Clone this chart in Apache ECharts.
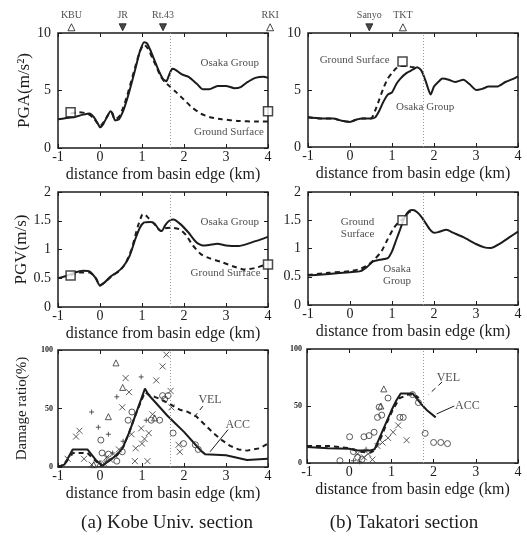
<!DOCTYPE html>
<html><head><meta charset="utf-8">
<script src="https://cdn.jsdelivr.net/npm/echarts@6/dist/echarts.min.js"></script>
<style>html,body{margin:0;padding:0;background:#fff}#c{width:527px;height:538px}</style>
</head><body><div id="c"></div>
<script>
// ---------------- DATA ----------------
const xTicks = [-1, 0, 1, 2, 3, 4];
const pgaTicks = [0, 5, 10];
const pgvTicks = [0, 0.5, 1, 1.5, 2];
const damageTicks = [0, 50, 100];

// (a) Kobe Univ. section
const kobePgaOsaka = [[-1,2.5],[-0.8,2.6],[-0.6,2.7],[-0.4,2.9],[-0.25,3.0],[-0.15,2.7],[-0.05,2.1],[0,1.8],[0.08,2.1],[0.18,2.8],[0.25,3.2],[0.3,3.0],[0.36,2.4],[0.45,2.5],[0.55,3.2],[0.65,4.3],[0.75,5.6],[0.85,7.0],[0.95,8.4],[1.05,9.2],[1.12,9.1],[1.2,8.5],[1.3,7.6],[1.4,6.7],[1.5,6.0],[1.58,5.8],[1.65,6.4],[1.72,6.9],[1.8,6.8],[1.95,6.4],[2.1,6.2],[2.3,5.6],[2.45,5.1],[2.6,5.1],[2.8,5.4],[3.0,5.4],[3.2,5.2],[3.35,5.3],[3.5,5.7],[3.7,6.1],[3.9,6.2],[4.0,6.1]];
const kobePgaSurface = [[-0.7,3.0],[-0.5,3.1],[-0.3,3.0],[-0.15,2.6],[-0.05,2.1],[0,1.9],[0.1,2.3],[0.2,2.9],[0.27,3.1],[0.35,2.5],[0.45,2.7],[0.55,3.5],[0.65,4.6],[0.75,5.9],[0.85,7.2],[0.95,8.4],[1.05,9.0],[1.15,8.6],[1.25,7.8],[1.35,7.0],[1.45,6.2],[1.55,5.7],[1.65,5.4],[1.8,4.9],[2.0,4.2],[2.2,3.5],[2.4,3.0],[2.6,2.7],[2.9,2.5],[3.3,2.35],[3.7,2.3],[4.0,2.3]];
const kobePgaSites = [[-0.7,3.1],[4.0,3.2]];
const kobePgvOsaka = [[-1,0.5],[-0.8,0.54],[-0.6,0.6],[-0.4,0.63],[-0.25,0.62],[-0.1,0.5],[0,0.37],[0.1,0.42],[0.25,0.53],[0.4,0.6],[0.55,0.7],[0.7,0.88],[0.85,1.2],[0.95,1.38],[1.05,1.47],[1.2,1.48],[1.3,1.45],[1.4,1.35],[1.47,1.32],[1.55,1.42],[1.65,1.5],[1.75,1.52],[1.9,1.45],[2.1,1.3],[2.3,1.12],[2.45,1.07],[2.6,1.08],[2.8,1.1],[3.0,1.07],[3.3,1.06],[3.6,1.12],[3.85,1.18],[4.0,1.22]];
const kobePgvSurface = [[-0.7,0.55],[-0.5,0.6],[-0.25,0.6],[-0.1,0.5],[0,0.38],[0.15,0.45],[0.3,0.55],[0.45,0.62],[0.6,0.75],[0.75,1.0],[0.9,1.4],[1.0,1.6],[1.05,1.62],[1.15,1.55],[1.3,1.44],[1.45,1.32],[1.55,1.37],[1.7,1.38],[1.9,1.35],[2.05,1.25],[2.2,1.08],[2.4,0.92],[2.6,0.85],[2.9,0.78],[3.2,0.7],[3.45,0.65],[3.7,0.68],[4.0,0.75]];
const kobePgvSites = [[-0.7,0.55],[4.0,0.74]];
const kobeAcc = [[-1,0],[-0.85,2],[-0.65,15],[-0.3,15],[-0.1,6],[0.05,1],[0.2,5],[0.4,10],[0.55,17],[0.7,30],[0.85,45],[1.0,60],[1.07,67],[1.15,62],[1.3,56],[1.45,50],[1.6,44],[1.8,37],[2.0,30],[2.2,22],[2.4,14],[2.5,11],[3.0,10],[3.5,6],[4.0,7]];
const kobeVel = [[-1,0],[-0.85,2],[-0.65,12],[-0.3,12],[-0.1,5],[0.05,1],[0.2,5],[0.4,10],[0.55,17],[0.7,30],[0.85,45],[1.0,58],[1.07,64],[1.15,62],[1.3,60],[1.5,57],[1.7,53],[1.9,49],[2.1,47],[2.3,43],[2.5,36],[2.7,29],[2.9,23],[3.1,18],[3.3,15],[3.5,14],[3.8,16],[4.0,20]];
const kobeCross = [[0.61,76],[1.34,74],[0.69,64],[0.53,51],[-0.49,31],[-0.57,26],[0.98,33],[1.16,29],[1.06,24],[0.85,16],[-0.77,7],[-0.38,7],[0.83,5],[1.13,5],[1.49,86],[1.58,96],[1.68,65],[1.7,51],[1.87,19],[1.9,13],[0.15,8],[0.25,6],[0.35,10],[0.45,15],[0.1,3],[-0.2,2],[1.25,45],[0.75,28],[1.0,20]];
const kobePlus = [[0.98,77],[0.4,60],[-0.2,47],[-0.04,34],[0.2,28],[-0.65,12],[0.3,12],[0.55,22],[0.15,5],[1.1,40]];
const kobeCircle = [[0.02,23],[0.67,40],[0.76,47],[1.22,40],[1.42,40],[0.53,13],[0.2,11],[1.49,61],[1.62,61],[1.54,58],[1.99,20],[2.27,19],[2.34,15],[1.74,29],[0.05,12],[0.4,5]];
const kobeTri = [[0.38,89],[0.54,68],[0.2,43],[0.0,3],[-0.15,2],[1.3,42]];
const kobeStations = ['KBU','JR','Rt.43','RKI'];
const kobeStationX = [-0.68, 0.54, 1.5, 4.05];
const kobeStationFilled = [false, true, true, false];
const kobeBoundary = 1.67;

// (b) Takatori section
const takaPgaOsaka = [[-1,2.6],[-0.7,2.5],[-0.4,2.5],[-0.2,2.3],[0,2.2],[0.15,2.4],[0.3,2.5],[0.5,2.5],[0.6,2.6],[0.7,3.2],[0.8,4.0],[0.9,4.6],[1.0,4.8],[1.1,5.5],[1.2,6.0],[1.35,6.5],[1.5,6.8],[1.6,7.0],[1.7,6.7],[1.8,5.8],[1.92,4.6],[2.0,5.3],[2.1,5.7],[2.2,6.0],[2.35,5.9],[2.5,5.7],[2.7,5.9],[2.85,5.5],[3.0,5.0],[3.15,5.1],[3.3,5.3],[3.5,5.3],[3.7,5.7],[3.9,6.0],[4.0,6.2]];
const takaPgaSurface = [[-1,2.6],[-0.7,2.5],[-0.4,2.5],[-0.2,2.3],[0,2.2],[0.15,2.4],[0.3,2.5],[0.5,2.5],[0.6,3.2],[0.7,4.2],[0.8,5.2],[0.9,6.0],[1.0,6.5],[1.1,6.9],[1.2,7.1],[1.35,7.1],[1.5,7.0],[1.6,7.0]];
const takaPgaSites = [[1.25,7.5]];
const takaPgvOsaka = [[-1,0.52],[-0.5,0.55],[0,0.58],[0.25,0.6],[0.4,0.67],[0.55,0.77],[0.7,0.8],[0.9,0.83],[1.0,0.95],[1.1,1.15],[1.2,1.35],[1.3,1.55],[1.4,1.66],[1.5,1.68],[1.6,1.64],[1.7,1.56],[1.8,1.45],[1.9,1.34],[2.0,1.28],[2.1,1.29],[2.3,1.33],[2.45,1.28],[2.7,1.2],[3.0,1.08],[3.2,1.02],[3.35,1.01],[3.6,1.1],[3.8,1.2],[4.0,1.3]];
const takaPgvSurface = [[-1,0.53],[-0.5,0.57],[0,0.6],[0.25,0.64],[0.45,0.72],[0.6,0.82],[0.75,0.95],[0.9,1.17],[1.05,1.37],[1.15,1.46],[1.25,1.52],[1.4,1.64],[1.5,1.68]];
const takaPgvSites = [[1.25,1.5]];
const takaAcc = [[-1,14],[-0.5,13],[0,12.5],[0.2,11],[0.5,11],[0.6,12],[0.8,29],[1.0,46],[1.12,55],[1.22,61],[1.5,61],[1.7,52],[1.85,46],[2.05,40]];
const takaVel = [[-1,15],[-0.5,15],[0,13],[0.25,10],[0.5,9],[0.6,11],[0.75,22],[0.9,36],[1.05,48],[1.2,57],[1.4,60],[1.55,60],[1.65,57]];
const takaCross = [[1.36,20],[1.16,33],[1.04,27],[0.92,22],[0.79,18],[0.67,15],[0.55,3],[0.35,5],[0.2,8],[0.45,8]];
const takaPlus = [[0.1,2],[0.25,1],[0.4,12]];
const takaCircle = [[0.92,57],[0.71,49],[0.67,40],[0.77,42],[0.59,27],[0.47,24],[0.35,23],[0.01,23],[-0.22,2],[1.28,40],[1.2,40],[1.8,26],[2.0,18],[2.17,18],[2.33,17],[1.64,53],[1.5,60],[0.2,5],[0.1,10],[0.3,3]];
const takaTri = [[0.82,65],[0.75,50]];
const takaStations = ['Sanyo','TKT'];
const takaStationX = [0.46, 1.26];
const takaStationFilled = [true, false];
const takaBoundary = 1.75;

const panelTitles = ['(a) Kobe Univ. section', '(b) Takatori section'];
const xName = 'distance from basin edge (km)';
const yNames = ['PGA(m/s²)', 'PGV(m/s)', 'Damage ratio(%)'];

// ---------------- LAYOUT ----------------
const FONT = 'Liberation Serif';
const INK = '#1c1c1c';
const grids = [
  {left:58, top:33, width:210, height:115},
  {left:308, top:33, width:210, height:114},
  {left:58, top:192, width:210, height:115},
  {left:308, top:192, width:210, height:113},
  {left:58, top:350, width:210, height:117},
  {left:307, top:349, width:211, height:114}
];
const yRanges = [
  {max:10, interval:5}, {max:10, interval:5},
  {max:2, interval:0.5}, {max:2, interval:0.5},
  {max:100, interval:50}, {max:100, interval:50}
];

const noLine = {show:false, onZero:false};
const xAxes = [], yAxes = [];
grids.forEach((g, i) => {
  g.show = true; g.borderColor = INK; g.borderWidth = 1.5; g.backgroundColor = 'transparent';
  xAxes.push({gridIndex:i, type:'value', min:xTicks[0], max:xTicks[xTicks.length-1], interval:1,
    name:xName, nameLocation:'middle', nameGap:19,
    nameTextStyle:{fontFamily:FONT, fontSize:16, color:INK},
    axisLine:noLine, axisTick:{inside:true, length:4, lineStyle:{color:INK}},
    axisLabel:{fontFamily:FONT, fontSize:14, color:INK, margin:2}, splitLine:{show:false}});
  const r = yRanges[i];
  const isDamage = i >= 4;
  yAxes.push({gridIndex:i, type:'value', min:0, max:r.max, interval:r.interval,
    name: (i % 2 === 0) ? yNames[Math.floor(i/2)] : '',
    nameLocation:'middle', nameGap: isDamage ? 28 : 25,
    nameTextStyle:{fontFamily:FONT, fontSize: isDamage ? 15 : 17, color:INK},
    axisLine:noLine, axisTick:{inside:true, length:4, lineStyle:{color:INK}},
    axisLabel:{fontFamily:FONT, fontSize: isDamage ? 8 : 14, fontWeight: isDamage ? 'bold' : 'normal', color:INK, margin: isDamage ? 5 : 7},
    splitLine:{show:false}});
});
grids.forEach((g, i) => {
  const r = yRanges[i];
  xAxes.push({gridIndex:i, type:'value', position:'top', min:-1, max:4, interval:1,
    axisLine:noLine, axisTick:{inside:true, length:4, lineStyle:{color:INK}}, axisLabel:{show:false}, splitLine:{show:false}});
  yAxes.push({gridIndex:i, type:'value', position:'right', min:0, max:r.max, interval:r.interval,
    axisLine:noLine, axisTick:{inside:true, length:4, lineStyle:{color:INK}}, axisLabel:{show:false}, splitLine:{show:false}});
});

const series = [];
function line(p, data, dashed, width, smooth) {
  series.push({type:'line', xAxisIndex:p, yAxisIndex:p, data:data, showSymbol:false, symbol:'none',
    smooth: smooth === undefined ? 0.2 : smooth, z:3,
    lineStyle:{color:INK, width: width || 2, type: dashed ? [5,4] : 'solid'}});
}
function boundary(p, x) {
  series.push({type:'line', xAxisIndex:p, yAxisIndex:p, data:[], markLine:{silent:true, symbol:'none',
    label:{show:false}, lineStyle:{color:'#999', type:[1,2], width:1}, data:[{xAxis:x}]}});
}
function squares(p, data) {
  series.push({type:'scatter', xAxisIndex:p, yAxisIndex:p, data:data, symbol:'rect', symbolSize:9, clip:false, z:5,
    itemStyle:{color:'#fff', borderColor:INK, borderWidth:1.5}});
}
function text(p, x, y, str, size) {
  series.push({type:'scatter', xAxisIndex:p, yAxisIndex:p, data:[[x,y]], symbolSize:0, clip:false, z:6,
    label:{show:true, position:'inside', formatter:str, fontFamily:FONT, fontSize:size || 11, color:INK, lineHeight:12}});
}
const CROSS = 'path://M0,0L10,10M0,10L10,0';
const PLUS = 'path://M5,0L5,10M0,5L10,5';
function pts(p, data, kind) {
  let sym, size = 6;
  if (kind === 'x') sym = CROSS;
  else if (kind === '+') { sym = PLUS; size = 5; }
  else if (kind === 'o') sym = 'circle';
  else { sym = 'triangle'; size = 6; }
  series.push({type:'scatter', xAxisIndex:p, yAxisIndex:p, data:data, symbol:sym, symbolSize:size, z:4,
    itemStyle:{color:'rgba(0,0,0,0)', borderColor:'#333', borderWidth:1}});
}
function stations(p, names, xs, filled, yv) {
  const d = names.map((n, k) => ({name:n, value:[xs[k], yv],
    symbol:'triangle', symbolRotate: filled[k] ? 180 : 0,
    itemStyle: filled[k] ? {color:INK, borderColor:INK, borderWidth:1} : {color:'#fff', borderColor:INK, borderWidth:1}}));
  series.push({type:'scatter', xAxisIndex:p, yAxisIndex:p, data:d, symbolSize:7, clip:false, z:6,
    label:{show:true, position:'top', distance:3, formatter:'{b}', fontFamily:FONT, fontSize:10, color:INK}});
}

// Panel 0: PGA Kobe
boundary(0, kobeBoundary);
line(0, kobePgaOsaka, false);
line(0, kobePgaSurface, true);
squares(0, kobePgaSites);
text(0, 3.09, 7.4, 'Osaka Group');
text(0, 3.07, 1.4, 'Ground Surface');
stations(0, kobeStations, kobeStationX, kobeStationFilled, 10.5);

// Panel 1: PGA Takatori
boundary(1, takaBoundary);
line(1, takaPgaOsaka, false);
line(1, takaPgaSurface, true);
squares(1, takaPgaSites);
text(1, 0.11, 7.6, 'Ground Surface');
text(1, 1.79, 3.5, 'Osaka Group');
stations(1, takaStations, takaStationX, takaStationFilled, 10.5);

// Panel 2: PGV Kobe
boundary(2, kobeBoundary);
line(2, kobePgvOsaka, false);
line(2, kobePgvSurface, true);
squares(2, kobePgvSites);
text(2, 3.09, 1.48, 'Osaka Group');
text(2, 2.99, 0.59, 'Ground Surface');

// Panel 3: PGV Takatori
boundary(3, takaBoundary);
line(3, takaPgvOsaka, false);
line(3, takaPgvSurface, true);
squares(3, takaPgvSites);
text(3, 0.18, 1.36, 'Ground\nSurface');
text(3, 1.12, 0.53, 'Osaka\nGroup');

// Panel 4: Damage Kobe
boundary(4, kobeBoundary);
pts(4, kobeCross, 'x'); pts(4, kobePlus, '+'); pts(4, kobeCircle, 'o'); pts(4, kobeTri, 't');
line(4, kobeAcc, false, 2, false);
line(4, kobeVel, true, 2, false);
text(4, 2.62, 57, 'VEL', 12);
text(4, 3.28, 36, 'ACC', 12);
line(4, [[2.45,52],[2.25,43]], true, 1, false);
line(4, [[3.05,32],[2.62,13]], false, 1, false);

// Panel 5: Damage Takatori
boundary(5, takaBoundary);
pts(5, takaCross, 'x'); pts(5, takaPlus, '+'); pts(5, takaCircle, 'o'); pts(5, takaTri, 't');
line(5, takaAcc, false, 2, false);
line(5, takaVel, true, 2, false);
text(5, 2.35, 75, 'VEL', 12);
text(5, 2.8, 50, 'ACC', 12);
line(5, [[2.2,71],[1.88,60]], true, 1, false);
line(5, [[2.49,50],[2.07,43]], false, 1, false);

const option = {
  backgroundColor:'#fff',
  animation:false,
  title: [
    {text:panelTitles[0], left:162, top:509, textAlign:'center', textStyle:{fontFamily:FONT, fontSize:19, fontWeight:'normal', color:INK}},
    {text:panelTitles[1], left:399, top:509, textAlign:'center', textStyle:{fontFamily:FONT, fontSize:19, fontWeight:'normal', color:INK}}
  ],
  grid: grids, xAxis: xAxes, yAxis: yAxes, series: series
};
const chart = echarts.init(document.getElementById('c'), null, {renderer:'canvas'});
chart.setOption(option);
</script></body></html>
